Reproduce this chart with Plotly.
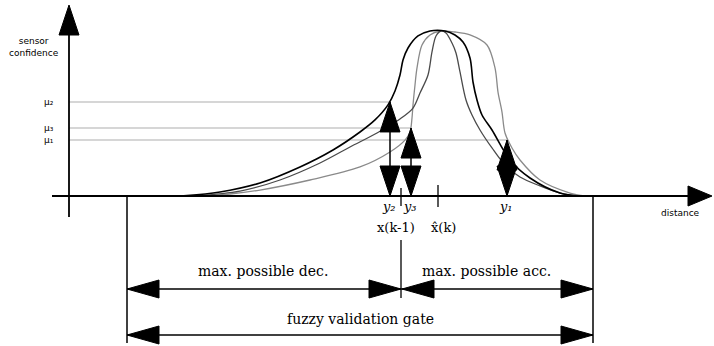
import plotly.graph_objects as go

# ---------------- data ----------------
# membership curves: distance position vs. sensor confidence (0..1)
x_black = [170, 187, 220, 260, 300, 333, 360, 375, 388, 395, 400, 403, 408, 418, 430,
           445, 455, 463, 470, 473, 477, 482, 492, 510, 530, 560, 580]
c_black = [0, 0.003, 0.024, 0.079, 0.176, 0.279, 0.388, 0.461, 0.552, 0.636, 0.733, 0.824,
           0.897, 0.970, 1.0, 1.0, 0.976, 0.933, 0.836, 0.691, 0.582, 0.491, 0.40, 0.218,
           0.109, 0.018, 0]

x_gray = [205, 230, 260, 310, 360, 390, 405, 410, 412, 413, 415, 417, 422, 430, 440,
          455, 470, 487, 495, 498, 502, 505, 512, 520, 540, 570, 585]
c_gray = [0, 0.012, 0.036, 0.097, 0.176, 0.267, 0.339, 0.388, 0.473, 0.552, 0.673, 0.776,
          0.915, 0.976, 1.0, 0.994, 0.976, 0.915, 0.776, 0.630, 0.509, 0.382, 0.291, 0.218,
          0.097, 0.018, 0]

x_dark = [195, 240, 280, 320, 350, 377, 400, 413, 420, 428, 432, 436, 441, 446, 452,
          456, 460, 466, 472, 480, 492, 505, 520, 540, 560, 578]
c_dark = [0, 0.030, 0.097, 0.200, 0.297, 0.382, 0.467, 0.533, 0.624, 0.733, 0.873, 0.970,
          1.0, 0.988, 0.927, 0.867, 0.752, 0.582, 0.491, 0.40, 0.291, 0.188, 0.115, 0.061,
          0.018, 0]

# measurements y1, y2, y3 and their confidences mu1, mu2, mu3
meas_labels = ["y\u2081", "y\u2082", "y\u2083"]
mu_labels = ["\u03bc\u2081", "\u03bc\u2082", "\u03bc\u2083"]
meas_x = [507, 390, 411]
meas_mu = [0.339, 0.570, 0.412]

x_prev = 401          # x(k-1)
x_pred = 438          # predicted x^(k)
gate = [127, 593]     # fuzzy validation gate limits

range_labels = ["max. possible dec.", "max. possible acc.", "fuzzy validation gate"]
axis_labels = ["sensor<br>confidence", "distance"]
pos_labels = ["x(k-1)", "x\u0302(k)"]

# ---------------- layout helpers ----------------
W, H = 714, 346
BASE_PX, UNIT_PX = 196, 165          # pixel row of zero confidence, pixels per unit


def P(p):
    """pixel row -> confidence units"""
    return (BASE_PX - p) / UNIT_PX


def C2P(c):
    return BASE_PX - c * UNIT_PX


fig = go.Figure()
shapes = []
annots = []


def line(x0, p0, x1, p1, color="black", width=1.5, layer="above"):
    shapes.append(dict(type="line", xref="x", yref="y", x0=x0, y0=P(p0), x1=x1, y1=P(p1),
                       line=dict(color=color, width=width), layer=layer))


triangles = []


def tri(pts):
    pts = pts + [pts[0]]
    triangles.append(([x for x, _ in pts], [P(p) for _, p in pts]))


HL, HW = 30, 10  # arrow head length, half width (pixels)


def head_up(x, p):
    tri([(x, p), (x - HW, p + HL), (x + HW, p + HL)])


def head_down(x, p):
    tri([(x, p), (x - HW, p - HL), (x + HW, p - HL)])


def head_left(x, p):
    tri([(x, p), (x + HL + 2, p - 9), (x + HL + 2, p + 9)])


def head_right(x, p):
    tri([(x, p), (x - HL - 2, p - 9), (x - HL - 2, p + 9)])


# confidence level guide lines (behind everything)
for mx, mu in zip(meas_x, meas_mu):
    line(69, C2P(mu), mx, C2P(mu), color="#c8c8c8", width=1.5, layer="below")

# membership curves
for xs, cs, col, w in [(x_gray, c_gray, "#8a8a8a", 1.3),
                       (x_dark, c_dark, "#4a4a4a", 1.3),
                       (x_black, c_black, "#000000", 1.6)]:
    fig.add_trace(go.Scatter(x=xs, y=cs, mode="lines",
                             line=dict(color=col, width=w, shape="spline", smoothing=0.9),
                             hoverinfo="skip", showlegend=False))

# axes
line(52, BASE_PX, 692, BASE_PX, width=1.8)
line(69, 217, 69, 30, width=1.8)
tri([(712, BASE_PX), (688, BASE_PX - 10), (688, BASE_PX + 10)])
tri([(69, 5), (59, 35), (79, 35)])

# measurement arrows
for mx, mu in zip(meas_x, meas_mu):
    top = C2P(mu)
    line(mx, top, mx, BASE_PX, width=1.5)
    head_up(mx, top)
    head_down(mx, BASE_PX)

# ticks
line(x_prev, 188, x_prev, 206, width=1.3)
line(x_pred, 185, x_pred, 207, width=1.3)

# gate lines and range arrows
line(gate[0], BASE_PX, gate[0], 343, width=1.5)
line(gate[1], BASE_PX, gate[1], 343, width=1.5)
line(x_prev, 240, x_prev, 298, width=1.3)

line(gate[0], 289, x_prev, 289, width=1.5)
line(x_prev, 289, gate[1], 289, width=1.5)
line(gate[0], 335, gate[1], 335, width=1.5)
head_left(gate[0], 289)
head_right(x_prev, 289)
head_left(x_prev + 1, 289)
head_right(gate[1], 289)
head_left(gate[0], 335)
head_right(gate[1], 335)

for tx, ty in triangles:
    fig.add_trace(go.Scatter(x=tx, y=ty, mode="lines", fill="toself", fillcolor="black",
                             line=dict(color="black", width=1), hoverinfo="skip",
                             showlegend=False))

SERIF = "DejaVu Serif"


def text(x, p, s, size=12, xanchor="center", family=SERIF, color="black"):
    annots.append(dict(x=x, y=P(p), xref="x", yref="y", text=s, showarrow=False,
                       xanchor=xanchor, yanchor="middle",
                       font=dict(family=family, size=size, color=color)))


# labels
text(7, 47, axis_labels[0], size=9, xanchor="left", family="DejaVu Sans")
text(680, 213, axis_labels[1], size=9, family="DejaVu Sans")
for lab, mu in zip(mu_labels, meas_mu):
    text(49, C2P(mu), lab, size=9, family="DejaVu Sans")
for lab, mx in zip(meas_labels, meas_x):
    text(mx - 1, 206, "<i>" + lab + "</i>", size=13)
text(396, 227, pos_labels[0], size=13)
text(443, 227, pos_labels[1], size=13)
text(263, 271, range_labels[0], size=14)
text(486, 271, range_labels[1], size=14)
text(360, 319, range_labels[2], size=14)

fig.update_layout(
    width=W, height=H, margin=dict(l=0, r=0, t=0, b=0),
    paper_bgcolor="white", plot_bgcolor="white",
    xaxis=dict(range=[0, W], visible=False, fixedrange=True),
    yaxis=dict(range=[P(H), P(0)], visible=False, fixedrange=True),
    shapes=shapes, annotations=annots, showlegend=False,
)

fig.write_html("out.html", config={"displayModeBar": False},
               post_script="document.body.style.margin='0';")
